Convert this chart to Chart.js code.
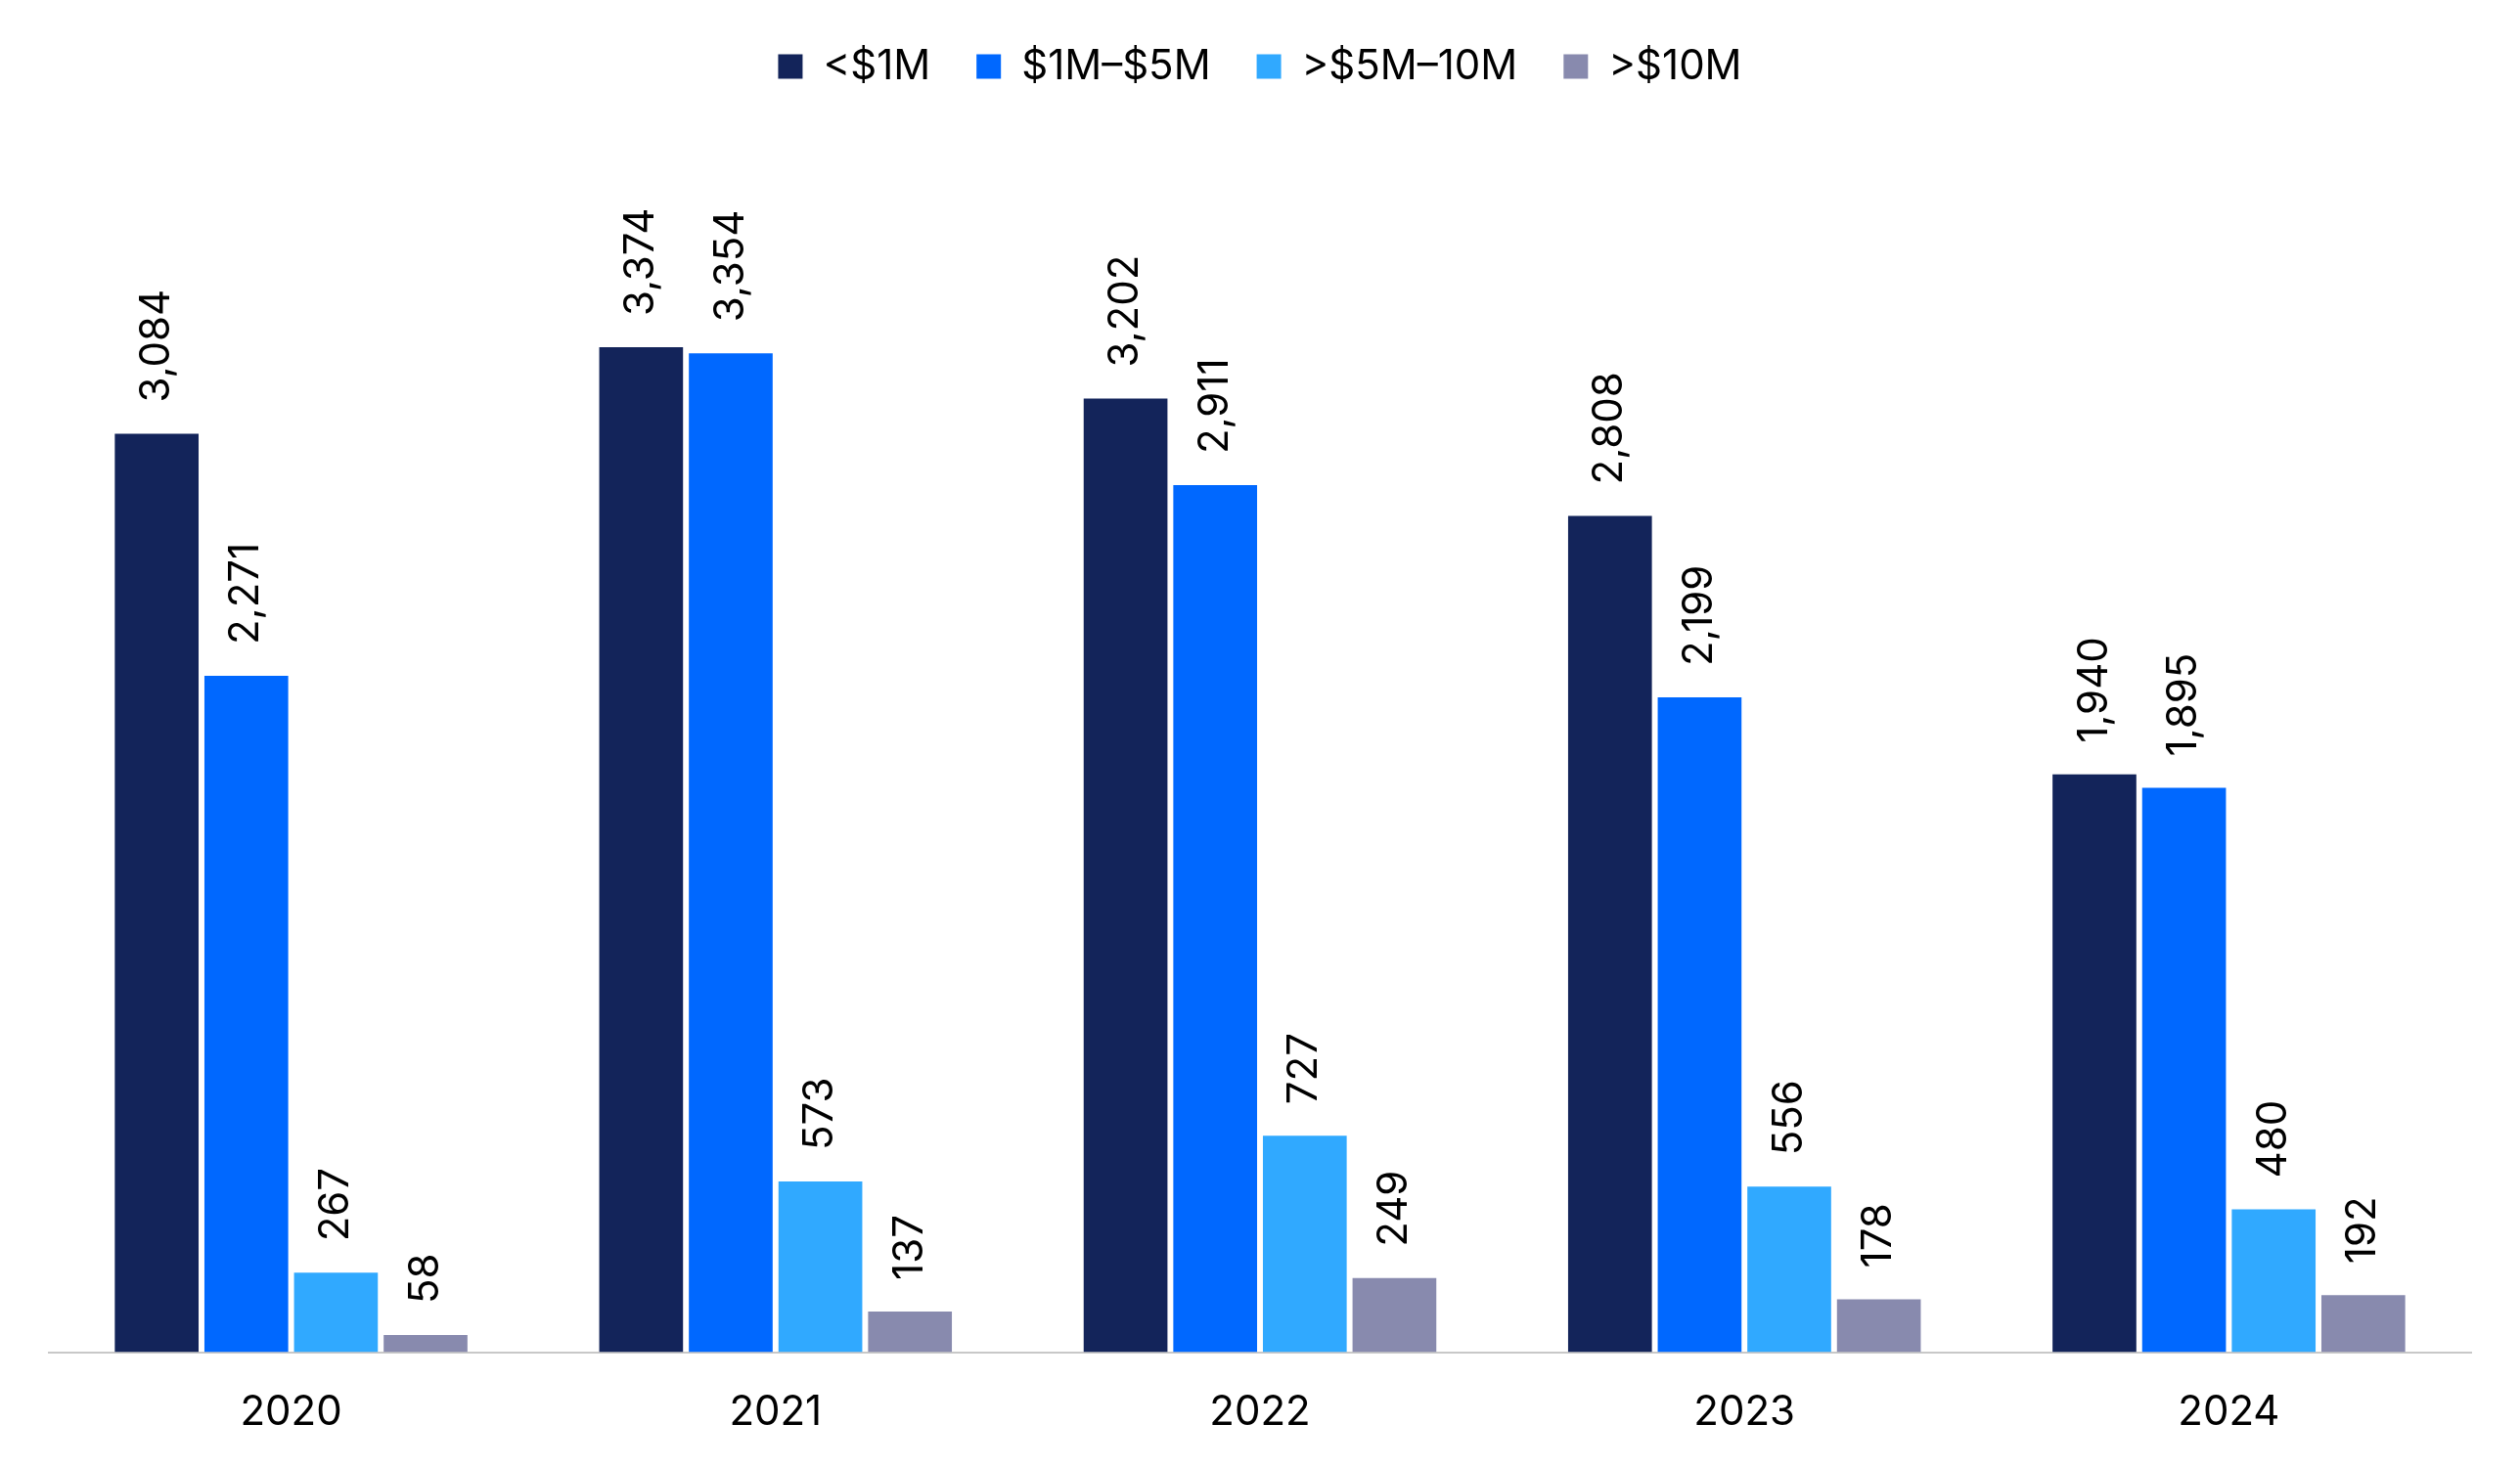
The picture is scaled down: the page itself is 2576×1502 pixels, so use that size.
<!DOCTYPE html>
<html>
<head>
<meta charset="utf-8">
<script src="https://cdn.jsdelivr.net/npm/chart.js@4.4.1/dist/chart.umd.min.js"></script>
<style>
  html, body { margin: 0; padding: 0; background: #fff; }
  #wrap { width: 2576px; height: 1502px; }
</style>
</head>
<body>
<div id="wrap"><canvas id="dealChart"></canvas></div>
<script>
// Data
const years = ['2020', '2021', '2022', '2023', '2024'];
const under1M = [3084, 3374, 3202, 2808, 1940];
const from1to5M = [2271, 3354, 2911, 2199, 1895];
const from5to10M = [267, 573, 727, 556, 480];
const over10M = [58, 137, 249, 178, 192];
const seriesNames = ['<$1M', '$1M\u2013$5M', '>$5M\u201310M', '>$10M'];
const seriesColors = ['#13245A', '#0068FF', '#30A9FF', '#888AAE'];

const FONT = 'Inter, "Noto Sans", sans-serif';

// rotated value labels above each bar
const barLabels = {
    id: 'barLabels',
    afterDatasetsDraw(chart) {
        const ctx = chart.ctx;
        ctx.save();
        ctx.fillStyle = '#000';
        ctx.font = '42px ' + FONT;
        ctx.textAlign = 'left';
        ctx.textBaseline = 'middle';
        chart.data.datasets.forEach((ds, i) => {
            const meta = chart.getDatasetMeta(i);
            meta.data.forEach((bar, j) => {
                ctx.save();
                ctx.translate(bar.x, bar.y - 32);
                ctx.rotate(-Math.PI / 2);
                ctx.fillText(ds.data[j].toLocaleString('en-US'), 0, 0);
                ctx.restore();
            });
        });
        ctx.restore();
    }
};

const allSeries = [under1M, from1to5M, from5to10M, over10M];

const data = {
    labels: years,
    datasets: allSeries.map((vals, i) => ({
        label: seriesNames[i],
        data: vals,
        backgroundColor: seriesColors[i],
        borderWidth: 0,
        categoryPercentage: 0.74,
        barPercentage: 0.935
    }))
};

const config = {
    type: 'bar',
    data: data,
    plugins: [barLabels],
    options: {
        responsive: true,
        maintainAspectRatio: false,
        animation: false,
        layout: { padding: { left: 50, right: 50, top: 0, bottom: 3 } },
        plugins: {
            tooltip: { enabled: false },
            legend: {
                position: 'top',
                labels: {
                    boxWidth: 25,
                    boxHeight: 25,
                    padding: 47,
                    color: '#000',
                    font: { family: FONT, size: 42 }
                }
            }
        },
        scales: {
            x: {
                grid: { display: false },
                border: { display: true, color: '#c8c8c8', width: 2 },
                ticks: {
                    color: '#000',
                    padding: 29,
                    font: { family: FONT, size: 42 }
                }
            },
            y: {
                display: false,
                beginAtZero: true,
                max: 4215
            }
        }
    }
};

const ctx = document.getElementById('dealChart').getContext('2d');
const dealChart = new Chart(ctx, config);
</script>
</body>
</html>
